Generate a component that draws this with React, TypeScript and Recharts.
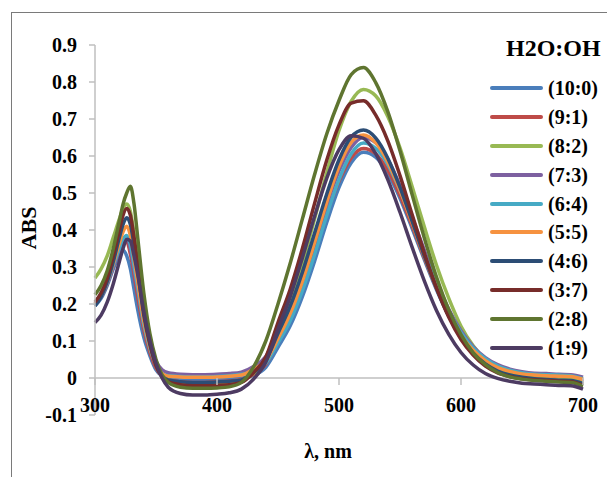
import { Legend, Line, LineChart, ReferenceLine, XAxis, YAxis } from 'recharts';

// wavelength grid, nm
const wavelengths = [
  300, 305, 310, 315, 320, 323, 326, 329, 332, 335, 340, 345, 350, 355, 360,
  370, 380, 390, 400, 410, 420,
  430, 440, 450, 460, 470, 480, 490, 500, 510, 520,
  530, 540, 550, 560, 570, 580, 590, 600, 610, 620, 630, 640, 650, 660, 670, 680, 690, 700,
];

// absorbance, one array per H2O:OH ratio
const abs10_0 = [
  0.195, 0.215, 0.25, 0.295, 0.33, 0.345, 0.33, 0.295, 0.24, 0.185, 0.11, 0.06, 0.022, 0.005, -0.002,
  -0.005, -0.006, -0.006, -0.005, -0.003, 0.0,
  0.007, 0.029, 0.083, 0.141, 0.22, 0.316, 0.421, 0.515, 0.582, 0.61,
  0.597, 0.553, 0.486, 0.404, 0.319, 0.238, 0.168, 0.113, 0.072, 0.043, 0.025, 0.013, 0.007, 0.003, 0.001, -0.002, 0.0, -0.008,
];
const abs9_1 = [
  0.2, 0.22, 0.255, 0.3, 0.345, 0.365, 0.368, 0.335, 0.28, 0.22, 0.13, 0.07, 0.028, 0.005, -0.005,
  -0.01, -0.012, -0.012, -0.01, -0.008, -0.004,
  0.01, 0.037, 0.1, 0.164, 0.246, 0.343, 0.445, 0.532, 0.595, 0.62,
  0.606, 0.562, 0.494, 0.411, 0.324, 0.242, 0.171, 0.115, 0.073, 0.044, 0.025, 0.013, 0.007, 0.003, 0.0, -0.003, -0.002, -0.01,
];
const abs8_2 = [
  0.27, 0.295, 0.33, 0.38, 0.43, 0.458, 0.47, 0.45, 0.39, 0.32, 0.19, 0.1, 0.045, 0.012, -0.005,
  -0.014, -0.016, -0.016, -0.015, -0.012, -0.006,
  0.013, 0.047, 0.126, 0.206, 0.309, 0.43, 0.555, 0.669, 0.748, 0.78,
  0.763, 0.707, 0.622, 0.517, 0.408, 0.304, 0.215, 0.14, 0.087, 0.05, 0.027, 0.012, 0.004, 0.0, -0.002, -0.005, -0.004, -0.012,
];
const abs7_3 = [
  0.2, 0.22, 0.255, 0.3, 0.345, 0.366, 0.375, 0.35, 0.295, 0.24, 0.145, 0.085, 0.045, 0.022, 0.014,
  0.01, 0.009, 0.009, 0.01, 0.012, 0.016,
  0.031, 0.058, 0.121, 0.186, 0.27, 0.367, 0.469, 0.559, 0.623, 0.65,
  0.636, 0.591, 0.52, 0.434, 0.345, 0.26, 0.186, 0.128, 0.085, 0.055, 0.036, 0.024, 0.017, 0.013, 0.012, 0.01, 0.009, 0.002,
];
const abs6_4 = [
  0.2, 0.222, 0.258, 0.305, 0.35, 0.375, 0.385, 0.36, 0.305, 0.245, 0.145, 0.08, 0.036, 0.012, 0.006,
  0.004, 0.003, 0.003, 0.004, 0.006, 0.01,
  0.018, 0.04, 0.095, 0.155, 0.236, 0.334, 0.44, 0.536, 0.606, 0.635,
  0.621, 0.577, 0.507, 0.423, 0.335, 0.252, 0.18, 0.123, 0.081, 0.052, 0.033, 0.021, 0.014, 0.01, 0.009, 0.008, 0.006, -0.002,
];
const abs5_5 = [
  0.2, 0.222, 0.26, 0.31, 0.365, 0.395, 0.41, 0.385, 0.325, 0.26, 0.155, 0.085, 0.038, 0.012, 0.005,
  0.003, 0.002, 0.002, 0.003, 0.005, 0.008,
  0.024, 0.047, 0.107, 0.174, 0.262, 0.367, 0.476, 0.572, 0.637, 0.657,
  0.636, 0.584, 0.508, 0.419, 0.328, 0.243, 0.172, 0.115, 0.075, 0.047, 0.028, 0.018, 0.011, 0.008, 0.006, 0.005, 0.004, -0.004,
];
const abs4_6 = [
  0.195, 0.22, 0.26, 0.315, 0.38, 0.415, 0.433, 0.415, 0.36, 0.29, 0.17, 0.09, 0.035, 0.006, -0.005,
  -0.01, -0.012, -0.012, -0.011, -0.009, -0.005,
  0.015, 0.048, 0.121, 0.194, 0.286, 0.392, 0.498, 0.59, 0.651, 0.67,
  0.649, 0.594, 0.515, 0.423, 0.329, 0.242, 0.167, 0.11, 0.067, 0.038, 0.019, 0.008, 0.002, -0.002, -0.004, -0.006, -0.007, -0.015,
];
const abs3_7 = [
  0.205, 0.23, 0.27, 0.33, 0.4, 0.44, 0.458, 0.44, 0.38, 0.31, 0.18, 0.095, 0.035, 0.003, -0.01,
  -0.018, -0.021, -0.021, -0.02, -0.018, -0.012,
  0.015, 0.057, 0.15, 0.24, 0.35, 0.472, 0.589, 0.684, 0.743, 0.749,
  0.711, 0.641, 0.547, 0.441, 0.337, 0.243, 0.164, 0.104, 0.062, 0.032, 0.014, 0.004, -0.002, -0.005, -0.007, -0.009, -0.01, -0.02,
];
const abs2_8 = [
  0.225, 0.25, 0.29, 0.35, 0.425, 0.47, 0.5, 0.518, 0.47, 0.38, 0.23, 0.12, 0.05, 0.008, -0.012,
  -0.025, -0.028, -0.028, -0.027, -0.024, -0.012,
  0.03, 0.1, 0.2, 0.31, 0.43, 0.55, 0.66, 0.75, 0.82, 0.839,
  0.799, 0.72, 0.614, 0.495, 0.378, 0.272, 0.184, 0.117, 0.068, 0.036, 0.015, 0.003, -0.003, -0.007, -0.009, -0.011, -0.012, -0.022,
];
const abs1_9 = [
  0.15, 0.17, 0.205, 0.255, 0.315, 0.35, 0.375, 0.37, 0.33, 0.28, 0.18, 0.1, 0.04, 0.0, -0.025,
  -0.042, -0.046, -0.046, -0.044, -0.04, -0.03,
  -0.003, 0.043, 0.132, 0.22, 0.325, 0.437, 0.54, 0.617, 0.655, 0.648,
  0.607, 0.536, 0.448, 0.353, 0.262, 0.182, 0.118, 0.069, 0.035, 0.012, -0.001, -0.009, -0.014, -0.016, -0.018, -0.02, -0.021, -0.03,
];

const seriesNames = ['(10:0)', '(9:1)', '(8:2)', '(7:3)', '(6:4)', '(5:5)', '(4:6)', '(3:7)', '(2:8)', '(1:9)'];
const seriesValues = [abs10_0, abs9_1, abs8_2, abs7_3, abs6_4, abs5_5, abs4_6, abs3_7, abs2_8, abs1_9];
const seriesColors = [
  '#4A7EBB', '#BE4B48', '#98B954', '#7D60A0', '#46AAC5',
  '#F69240', '#2C4D75', '#772C2A', '#5F7530', '#4D3B62',
];

const xTicks = [300, 400, 500, 600, 700];
const yTicks = [-0.1, 0, 0.1, 0.2, 0.3, 0.4, 0.5, 0.6, 0.7, 0.8, 0.9];

const W = 607;
const H = 477;
const MARGIN = { top: 45, right: 24, left: 15, bottom: 32 };
const Y_AXIS_W = 80;
const X_AXIS_H = 30;
const PLOT_H = H - MARGIN.top - MARGIN.bottom - X_AXIS_H;
const Y_MIN = -0.1;
const Y_MAX = 0.9;
// x axis crosses at y = 0, not at the bottom of the plot
const ZERO_LIFT = (PLOT_H * (0 - Y_MIN)) / (Y_MAX - Y_MIN);

const SERIF = '"Liberation Serif", "Times New Roman", serif';
const AXIS = '#bfbfbf';

const data = wavelengths.map((wl, i) => {
  const row: Record<string, number> = { wl };
  seriesValues.forEach((vals, k) => { row[`s${k}`] = vals[i]; });
  return row;
});

const XTick = ({ x, y, payload }: any) => {
  const zy = y - ZERO_LIFT;
  return (
    <g>
      <line x1={x} y1={zy} x2={x} y2={zy + 7} stroke={AXIS} strokeWidth={1.5} />
      <text x={x} y={zy + 34} textAnchor="middle" fill="#000"
        style={{ fontFamily: SERIF, fontSize: 20, fontWeight: 700 }}>
        {payload.value}
      </text>
    </g>
  );
};

const YTitle = ({ viewBox }: any) => {
  const cx = viewBox.x + 13;
  const cy = viewBox.y + viewBox.height / 2 - 2;
  return (
    <text x={cx} y={cy} transform={`rotate(-90 ${cx} ${cy})`} textAnchor="middle"
      dominantBaseline="central" fill="#000"
      style={{ fontFamily: SERIF, fontSize: 22, fontWeight: 700 }}>
      ABS
    </text>
  );
};

const XTitle = ({ viewBox }: any) => (
  <text x={viewBox.x + viewBox.width / 2 - 11} y={viewBox.y + 43} textAnchor="middle" fill="#000"
    style={{ fontFamily: SERIF, fontSize: 20, fontWeight: 700 }}>
    λ, nm
  </text>
);

// legend keeps the series order of the source chart
const LegendBox = () => (
  <div style={{ fontFamily: SERIF, fontWeight: 700, color: '#000' }}>
    <div style={{ fontSize: 24, height: 36, lineHeight: '36px', paddingLeft: 16, whiteSpace: 'nowrap' }}>H2O:OH</div>
    <div style={{ marginTop: 7.5 }}>
      {seriesNames.map((name, k) => (
        <div key={name} style={{ display: 'flex', alignItems: 'center', height: 28.9 }}>
          <span style={{ display: 'inline-block', width: 53, height: 4, background: seriesColors[k], borderRadius: 2, marginRight: 5 }} />
          <span style={{ fontSize: 20, lineHeight: '20px', whiteSpace: 'nowrap' }}>{name}</span>
        </div>
      ))}
    </div>
  </div>
);

export default function App() {
  return (
    <div style={{ position: 'absolute', left: 0, top: 0, width: W, height: H, overflow: 'hidden', background: '#fff' }}>
      <div style={{ position: 'absolute', left: 11, top: 12, width: 800, height: 700, border: '1px solid #7a7a7a' }} />
      <LineChart width={W} height={H} data={data} margin={MARGIN}>
        <XAxis dataKey="wl" type="number" domain={[300, 700]} ticks={xTicks} height={X_AXIS_H}
          axisLine={false} tickLine={false} tickSize={0} tickMargin={0} tick={<XTick />}
          interval={0} label={<XTitle />} />
        <YAxis type="number" domain={[Y_MIN, Y_MAX]} ticks={yTicks} width={Y_AXIS_W} interval={0}
          axisLine={{ stroke: AXIS, strokeWidth: 1.5 }} tickLine={{ stroke: AXIS, strokeWidth: 1.5 }}
          tickSize={6} tickMargin={12}
          tick={{ fill: '#000', fontSize: 20, fontWeight: 700, fontFamily: SERIF }}
          tickFormatter={(v: number) => (v === 0 ? '0' : String(v))}
          label={<YTitle />} />
        <ReferenceLine y={0} stroke={AXIS} strokeWidth={1.5} />
        <Legend layout="vertical" align="center" verticalAlign="middle" content={<LegendBox />}
          wrapperStyle={{ position: 'absolute', left: 490, top: 30, width: 140 }} />
        {seriesNames.map((name, k) => (
          <Line key={name} dataKey={`s${k}`} name={name} type="monotone" stroke={seriesColors[k]}
            strokeWidth={3.5} dot={false} activeDot={false} isAnimationActive={false} />
        ))}
      </LineChart>
    </div>
  );
}
